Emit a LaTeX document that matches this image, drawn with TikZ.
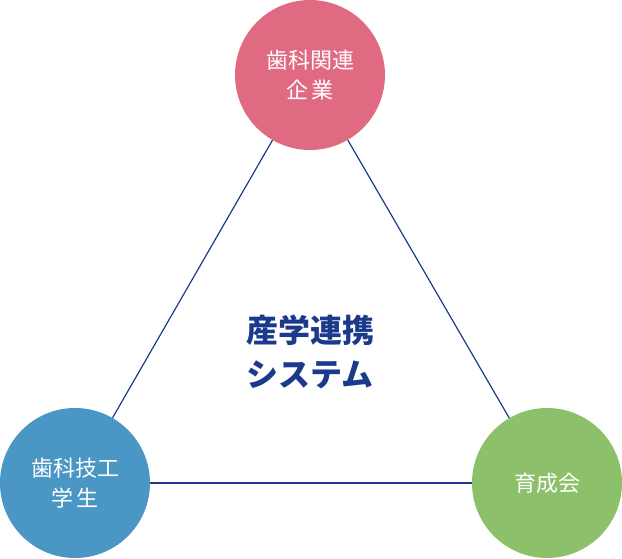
\documentclass[tikz,border=0pt]{standalone}
\usepackage{fontspec}
\newfontfamily\cjk{Noto Sans CJK JP}
\definecolor{pinkc}{HTML}{E06A82}
\definecolor{bluec}{HTML}{4A96C5}
\definecolor{greenc}{HTML}{8DC06B}
\definecolor{navy}{HTML}{1B3A8C}
\begin{document}
\begin{tikzpicture}[x=1pt,y=-1pt,
  circ/.style={circle,minimum size=150pt,inner sep=0pt,text=white,align=center,font=\cjk\fontsize{22}{30}\selectfont},
  link/.style={draw=navy,line width=1.2pt}]
\useasboundingbox (0,0) rectangle (622,558);
\node[circ,fill=pinkc] (a) at (310,75) {歯科関連\\企\,業};
\node[circ,fill=bluec] (b) at (75,483) {歯科技工\\学\,生};
\node[circ,fill=greenc] (c) at (547,483) {育成会};
\draw[link] (a) -- (b);
\draw[link] (a) -- (c);
\draw[link] (b) -- (c);
\node[text=navy,align=center,font=\cjk\bfseries\fontsize{32}{44}\selectfont] (t) at (310,352) {産学連携\\システム};
\end{tikzpicture}
\end{document}
